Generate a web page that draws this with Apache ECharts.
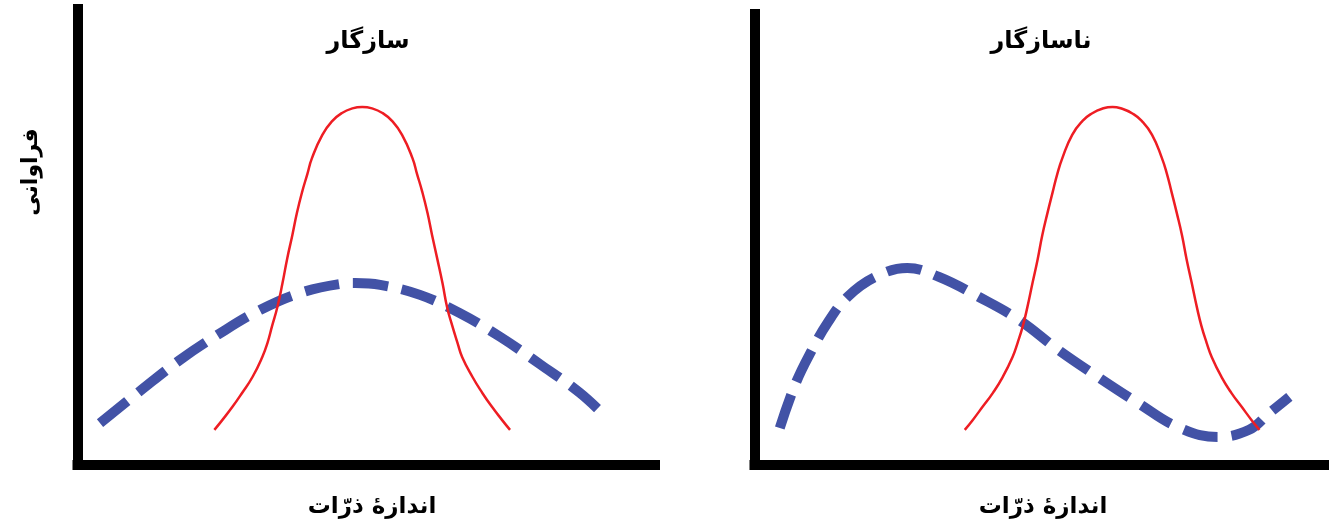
<!DOCTYPE html>
<html>
<head>
<meta charset="utf-8">
<script src="https://cdn.jsdelivr.net/npm/echarts@6/dist/echarts.min.js"></script>
<style>
    html, body { margin: 0; padding: 0; background: #fff; }
    #myChart { width: 1329px; height: 526px; }
</style>
</head>
<body>
<div id="myChart"></div>
<script>
    // texts
    var panelTitles = ['سازگار', 'ناسازگار']
    var xAxisTitle = 'اندازهٔ ذرّات'
    var yAxisTitle = 'فراوانی'

    // left panel (سازگار) - narrow red curve
    var leftRedX = [23.7, 25.1, 26.8, 28.5, 30.3, 32.0, 32.9, 33.7, 34.6, 35.5, 36.3, 37.2, 38.0, 38.9, 39.8, 40.6,
        42.4, 44.1, 45.8, 47.6, 49.3, 51.0, 52.8, 54.5, 56.2, 58.0, 58.8, 59.7, 60.6, 61.4, 62.3, 63.2, 64.0,
        64.9, 65.8, 66.6, 68.4, 70.1, 71.8, 73.5, 74.9]
    var leftRedY = [7.7, 9.9, 12.7, 15.8, 19.3, 23.7, 26.8, 30.5, 34.6, 39.9, 45.2, 50.4, 55.3, 59.9, 63.8, 67.3,
        72.4, 75.4, 77.2, 78.2, 78.5, 78.2, 77.2, 75.4, 72.4, 67.3, 63.8, 59.9, 55.3, 50.4, 45.2, 39.9, 34.6,
        30.5, 26.8, 23.7, 19.3, 15.8, 12.7, 9.9, 7.7]
    // left panel - wide blue dashed curve
    var leftBlueX = [3.9, 10.8, 17.7, 24.7, 31.6, 38.5, 45.5, 48.1, 52.4, 59.3, 66.2, 73.2, 80.1, 87.0, 91.7]
    var leftBlueY = [9.2, 16.2, 23.0, 28.9, 34.0, 37.7, 39.7, 39.9, 39.5, 37.3, 33.3, 28.1, 22.1, 15.8, 10.3]

    // right panel (ناسازگار)
    var rightRedX = [36.6, 38.0, 39.7, 41.5, 43.2, 44.9, 45.8, 46.7, 47.5, 48.4, 49.3, 50.1, 51.0, 51.9, 52.7, 53.6,
        55.3, 57.1, 58.8, 60.5, 62.3, 64.0, 65.7, 67.4, 69.2, 70.9, 71.8, 72.6, 73.5, 74.4, 75.2, 76.1, 77.0,
        77.8, 78.7, 79.6, 81.3, 83.0, 84.8, 86.5, 87.9]
    var rightRedY = [7.8, 10.0, 12.9, 16.0, 19.5, 23.9, 27.1, 30.8, 35.0, 40.4, 45.7, 51.0, 55.9, 60.5, 64.5, 68.1,
        73.2, 76.3, 78.0, 79.0, 79.4, 79.0, 78.0, 76.3, 73.2, 68.1, 64.5, 60.5, 55.9, 51.0, 45.7, 40.4, 35.0,
        30.8, 27.1, 23.9, 19.5, 16.0, 12.9, 10.0, 7.8]
    var rightBlueX = [4.4, 7.2, 10.0, 12.7, 16.2, 21.0, 26.6, 32.1, 39.0, 46.0, 52.9, 59.8, 66.8, 73.7,
        80.6, 86.1, 89.6, 93.1]
    var rightBlueY = [8.2, 18.2, 25.5, 31.5, 37.3, 41.7, 43.7, 41.7, 37.3, 32.2, 25.5, 19.5, 13.7, 8.4,
        6.2, 7.8, 11.5, 15.1]

    function pairs (xs, ys) {
        var out = []
        for (let i = 0; i < xs.length; i++) {
            out.push([xs[i], ys[i]])
        }
        return out
    }

    var fontFamily = 'DejaVu Sans'
    var axisLineStyle = {color: '#000', width: 10, cap: 'square'}

    function makeAxis (idx) {
        return {
            type: 'value', gridIndex: idx, min: 0, max: 100,
            axisLine: {show: true, onZero: false, lineStyle: axisLineStyle},
            axisTick: {show: false}, axisLabel: {show: false}, splitLine: {show: false}
        }
    }

    var redStyle = {color: '#EE1D23', width: 2.5}
    var blueStyle = {color: '#4252A6', width: 10, type: [35, 14], cap: 'butt'}

    function makeSeries (idx, data, style, z, smooth) {
        return {
            type: 'line', xAxisIndex: idx, yAxisIndex: idx,
            data: data, smooth: smooth, showSymbol: false, symbol: 'none',
            lineStyle: style, itemStyle: {color: style.color},
            z: z, silent: true, animation: false
        }
    }

    function textEl (str, x, y, size, rot) {
        return {
            type: 'text', x: x, y: y, rotation: rot || 0,
            style: {
                text: str, fill: '#000', font: 'bold ' + size + 'px ' + fontFamily,
                textAlign: 'center', textVerticalAlign: 'middle'
            }
        }
    }

    let myChart = echarts.init(document.getElementById('myChart'), null, {renderer: 'canvas'})
    myChart.setOption({
        animation: false,
        backgroundColor: '#fff',
        grid: [
            {left: 77.5, right: 674, top: 9, bottom: 61},
            {left: 754.5, right: -3, top: 14, bottom: 61}
        ],
        xAxis: [makeAxis(0), makeAxis(1)],
        yAxis: [makeAxis(0), makeAxis(1)],
        series: [
            makeSeries(0, pairs(leftBlueX, leftBlueY), blueStyle, 2, 0.4),
            makeSeries(0, pairs(leftRedX, leftRedY), redStyle, 3, 0.5),
            makeSeries(1, pairs(rightBlueX, rightBlueY), blueStyle, 2, 0.4),
            makeSeries(1, pairs(rightRedX, rightRedY), redStyle, 3, 0.5)
        ],
        graphic: [
            textEl(panelTitles[0], 368, 42, 24),
            textEl(panelTitles[1], 1041, 42, 24),
            textEl(xAxisTitle, 372, 507, 23),
            textEl(xAxisTitle, 1043, 507, 23),
            textEl(yAxisTitle, 31, 172, 22, Math.PI / 2)
        ]
    })
    window.onresize = myChart.resize
</script>
</body>
</html>
